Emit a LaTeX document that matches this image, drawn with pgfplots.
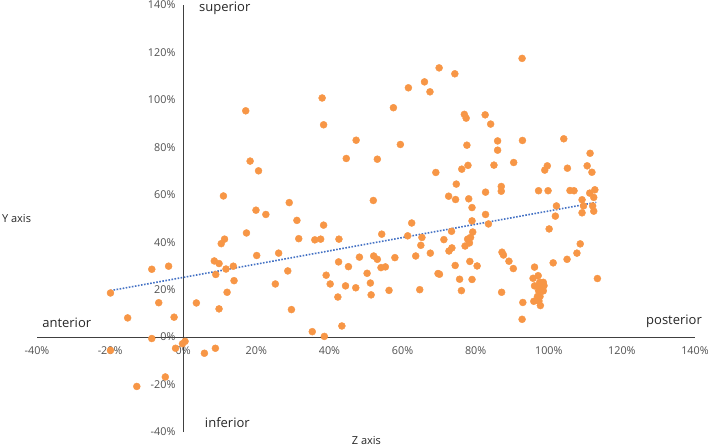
\documentclass[border=0pt]{standalone}
\usepackage{fontspec}
\setmainfont{Open Sans}
\usepackage{pgfplots}
\pgfplotsset{compat=1.18}
\definecolor{dot}{HTML}{F79646}
\definecolor{trend}{HTML}{4472C4}
\definecolor{axgray}{HTML}{404040}
\definecolor{tickgray}{HTML}{505050}
\definecolor{txt}{HTML}{262626}

\pgfplotstableread{
x y
17.1 95.4
38.0 100.8
38.4 89.5
47.3 83.0
44.6 75.3
18.3 74.2
20.6 70.1
11.0 59.5
29.0 56.7
19.9 53.5
22.6 51.7
31.1 49.2
38.4 47.2
17.3 43.9
92.7 117.5
70.0 113.5
74.3 111.0
66.0 107.6
61.6 105.1
67.5 103.4
57.5 96.7
76.9 93.9
77.4 92.3
82.6 93.7
84.1 89.8
59.4 81.2
77.6 80.9
86.0 82.7
86.0 78.8
92.8 82.9
104.1 83.6
111.3 77.5
53.1 75.0
69.1 69.4
76.2 70.8
77.9 72.4
85.0 72.5
90.4 73.6
99.6 72.2
98.9 70.4
105.1 71.2
110.5 72.2
111.8 69.5
74.7 64.5
87.0 63.5
87.0 61.5
82.7 61.1
97.2 61.7
99.8 61.7
105.8 61.8
106.9 61.7
112.6 62.1
111.2 60.7
112.3 58.9
109.1 57.9
112.0 55.3
109.5 55.3
112.3 53.1
109.1 52.4
102.1 55.3
101.8 51.0
72.6 59.4
74.5 58.0
78.1 58.3
79.0 54.6
82.7 51.7
79.0 49.0
83.5 47.7
100.1 45.6
52.0 57.6
62.5 48.1
10.4 39.4
11.3 41.3
31.6 41.5
36.0 41.0
37.6 41.3
42.6 41.3
20.1 34.4
26.1 35.4
48.2 33.7
8.5 32.1
9.8 31.0
13.7 29.9
11.7 28.7
-4.0 29.9
-8.6 28.6
8.9 26.4
42.5 31.7
45.2 29.7
28.6 27.9
39.1 26.1
13.9 23.8
25.2 22.4
40.2 22.4
44.4 21.6
47.2 20.8
-19.9 18.6
12.0 18.9
42.3 16.9
-6.7 14.5
3.6 14.4
9.8 11.9
29.6 11.6
-15.2 8.1
-2.5 8.4
43.4 4.7
35.3 2.3
38.6 0.3
-8.6 -0.6
-0.2 -2.8
0.5 -1.8
-2.1 -4.7
8.8 -4.7
5.8 -6.8
-19.9 -5.6
-4.9 -16.8
-12.7 -20.8
54.3 43.4
61.4 42.7
65.3 42.0
73.4 44.6
79.2 44.3
71.3 41.1
77.8 41.3
78.6 42.0
78.3 39.7
77.1 38.4
65.0 38.7
73.5 37.6
72.7 36.3
52.1 34.2
53.1 32.8
57.9 33.5
63.6 34.2
67.6 35.4
87.2 35.8
87.6 34.6
89.1 32.0
90.3 28.9
78.4 31.9
80.4 30.0
74.4 30.2
54.1 29.3
55.3 29.6
50.3 26.9
51.2 22.8
51.4 17.8
56.3 19.7
64.7 20.0
69.7 26.8
70.1 26.5
75.6 24.4
79.0 24.3
76.1 19.6
87.1 18.9
92.7 7.5
92.9 14.6
96.1 29.5
97.1 25.9
95.7 24.8
97.5 23.1
98.5 23.1
98.7 21.7
96.1 21.6
97.2 21.6
98.0 20.5
97.2 19.6
98.5 19.5
96.9 17.1
97.6 17.1
95.9 15.1
97.3 15.2
97.7 13.3
101.2 31.3
105.0 32.8
107.7 35.4
108.6 39.3
113.3 24.7
}\pts

\begin{document}
\begin{tikzpicture}
\path[use as bounding box] (-37bp,-14bp) rectangle (671bp,432bp);
\begin{axis}[
  at={(0,0)}, anchor=south west,
  scale only axis, width=658bp, height=427bp,
  xmin=-40, xmax=140, ymin=-40, ymax=140,
  axis lines=middle,
  axis line style={-, axgray, line width=1.1bp},
  xtick={-40,-20,0,20,40,60,80,100,120,140},
  ytick={-40,-20,0,20,40,60,80,100,120,140},
  xticklabels={-40\%,-20\%,0\%,20\%,40\%,60\%,80\%,100\%,120\%,140\%},
  yticklabels={-40\%,-20\%,0\%,20\%,40\%,60\%,80\%,100\%,120\%,140\%},
  major tick length=0pt,
  hide obscured x ticks=false, hide obscured y ticks=false,
  tick label style={font=\fontsize{10.8bp}{13bp}\selectfont, text=tickgray},
  xticklabel style={anchor=north, yshift=-6.5bp},
  yticklabel style={anchor=east, xshift=-4.3bp},
  clip=false,
]
\addplot[only marks, mark=*, mark size=3.5bp, color=dot, mark options={solid, draw=dot, fill=dot}] table[x=x, y=y] {\pts};
\addplot[trend, line width=1.6bp, dash pattern=on 1.6bp off 1.5bp] coordinates {(-19.9,19.6) (113,56.8)};

\node[anchor=base west, inner sep=0pt, font=\fontsize{13bp}{15bp}\selectfont, text=txt] at (axis cs:4.3,137.1) {superior};
\node[anchor=base west, inner sep=0pt, font=\fontsize{13bp}{15bp}\selectfont, text=txt] at (axis cs:-38.6,4.0) {anterior};
\node[anchor=base west, inner sep=0pt, font=\fontsize{13bp}{15bp}\selectfont, text=txt] at (axis cs:126.6,5.3) {posterior};
\node[anchor=base west, inner sep=0pt, font=\fontsize{13bp}{15bp}\selectfont, text=txt] at (axis cs:5.9,-37.9) {inferior};
\node[anchor=base west, inner sep=0pt, font=\fontsize{11bp}{13bp}\selectfont, text=txt] at (axis cs:-49.6,48.3) {Y axis};
\node[anchor=base west, inner sep=0pt, font=\fontsize{11bp}{13bp}\selectfont, text=txt] at (axis cs:46.1,-45.2) {Z axis};
\end{axis}
\end{tikzpicture}
\end{document}
